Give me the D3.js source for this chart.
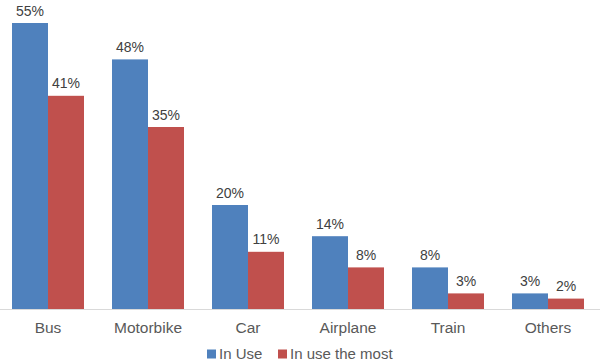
<!DOCTYPE html>
<html><head><meta charset="utf-8">
<script src="https://cdn.jsdelivr.net/npm/d3@7"></script>
<style>body{margin:0;background:#fff}svg{display:block}text{font-family:"Liberation Sans",Arial,sans-serif}</style>
</head><body>
<script>
const categories = ["Bus","Motorbike","Car","Airplane","Train","Others"];
const inUse = [55,48,20,14,8,3];
const inUseMost = [41,35,11,8,3,2];
const seriesNames = ["In Use","In use the most"];
const colors = ["#4F81BD","#C0504D"];

const W=600,H=364, base=309;
const svg=d3.select("body").append("svg").attr("width",W).attr("height",H);
const x=d3.scaleBand().domain(categories).range([-2,598]).paddingInner(0.28).paddingOuter(0.14);
const x1=d3.scaleBand().domain([0,1]).range([0,x.bandwidth()]);
const y=d3.scaleLinear().domain([0,60]).range([base,-3]);

const series=[inUse,inUseMost];
series.forEach((vals,si)=>{
  const g=svg.append("g");
  g.selectAll("rect").data(vals).enter().append("rect")
    .attr("x",(d,i)=>x(categories[i])+x1(si))
    .attr("y",d=>y(d)).attr("width",x1.bandwidth()).attr("height",d=>base-y(d))
    .attr("fill",colors[si]);
  g.selectAll("text").data(vals).enter().append("text")
    .attr("x",(d,i)=>x(categories[i])+x1(si)+x1.bandwidth()/2)
    .attr("y",d=>y(d)-7.5).attr("text-anchor","middle").attr("font-size",14).attr("fill","#404040")
    .text(d=>d+"%");
});
svg.append("line").attr("x1",0).attr("x2",600).attr("y1",base+0.5).attr("y2",base+0.5).attr("stroke","#D9D9D9");
const ax=svg.append("g").attr("transform",`translate(0,${base})`).call(d3.axisBottom(x).tickSize(0).tickPadding(13));
ax.select(".domain").remove();
ax.selectAll("text").attr("font-size",15.5).attr("fill","#595959").style("font-family","Liberation Sans, Arial, sans-serif");

const leg=[{x:207},{x:278}];
seriesNames.forEach((n,i)=>{
  svg.append("rect").attr("x",leg[i].x).attr("y",349.5).attr("width",9).attr("height",9).attr("fill",colors[i]);
  svg.append("text").attr("x",leg[i].x+12).attr("y",359).attr("font-size",15).attr("fill","#595959").text(n);
});
</script>
</body></html>
